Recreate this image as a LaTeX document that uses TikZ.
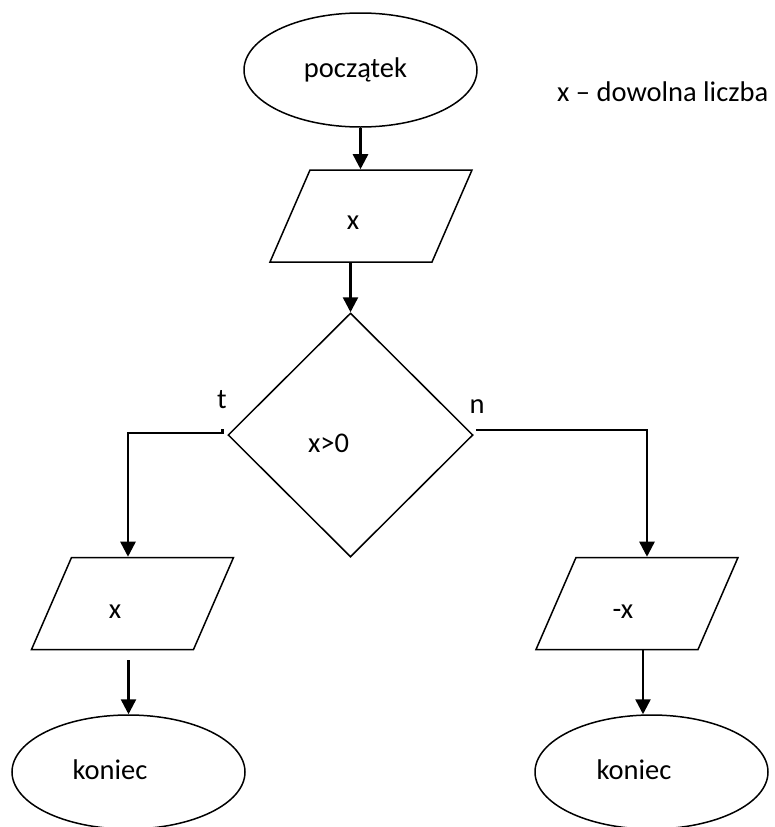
\documentclass[tikz,border=0pt]{standalone}
\usepackage{fontspec}
\setmainfont{Carlito}
\usepackage{tikz}
\usetikzlibrary{shapes.geometric, arrows.meta, positioning, calc}

\begin{document}
\begin{tikzpicture}[x=1pt, y=-1pt,
		every node/.style={font=\fontsize{28.5}{34}\selectfont},
		term/.style={ellipse, draw, line width=1.5pt, minimum width=233pt, minimum height=114pt, inner sep=2pt},
		inout/.style={trapezium, trapezium left angle=66.5, trapezium right angle=113.5, trapezium stretches body=true, draw, line width=1.5pt, minimum width=202pt, inner xsep=2pt, inner ysep=46pt},
		decision/.style={diamond, draw, line width=1.5pt, minimum width=245pt, minimum height=244pt, inner sep=2pt},
		conn/.style={line width=2.5pt, -{Triangle[length=15pt, width=15pt]}}]
		\useasboundingbox (0,0) rectangle (774,827);
		\node[term, label={[xshift=-5pt]center:początek}] (start) at (360.5,70) {};
		\node[anchor=base west, inner sep=0pt] (legend) at (557,101) {x – dowolna liczba};
		\node[inout, label={[xshift=-18pt, yshift=-7pt]center:x}] (in1) at (371,216) {};
		\node[decision, label={[xshift=-22pt, yshift=-8pt]center:x>0}] (dec) at (350.5,435) {\strut};
		\node[anchor=base] (tlab) at (222,408) {t};
		\node[anchor=base] (nlab) at (477,413) {n};
		\node[inout, label={[xshift=-17.5pt, yshift=-8pt]center:x}] (out1) at (132.5,603.5) {};
		\node[inout, label={[xshift=-14pt, yshift=-8pt]center:-x}] (out2) at (637,603.5) {};
		\node[term, label={[xshift=-18.5pt, yshift=2pt]center:koniec}] (end1) at (128.5,772) {};
		\node[term, label={[xshift=-17.5pt, yshift=2pt]center:koniec}] (end2) at (651.5,772) {};
		%% connectors
		\draw[conn] (start.south) -- (start.south |- in1.north);
		\draw[conn] (in1.south -| dec.north) -- (dec.north);
		\draw[conn] ([shift={(-5,-6)}]dec.west) -- ++(0,4) -| ([xshift=-4.5pt]out1.north);
		\draw[conn] ([shift={(2,-5)}]dec.east) -| ([xshift=10pt]out2.north);
		\draw[conn] ($(end1.north |- out1.south)+(0,10)$) -- (end1.north);
		\draw[conn] ($(end2.north |- out2.south)+(-8.5,0)$) -- ([xshift=-8.5pt]end2.north);
\end{tikzpicture}
\end{document}
